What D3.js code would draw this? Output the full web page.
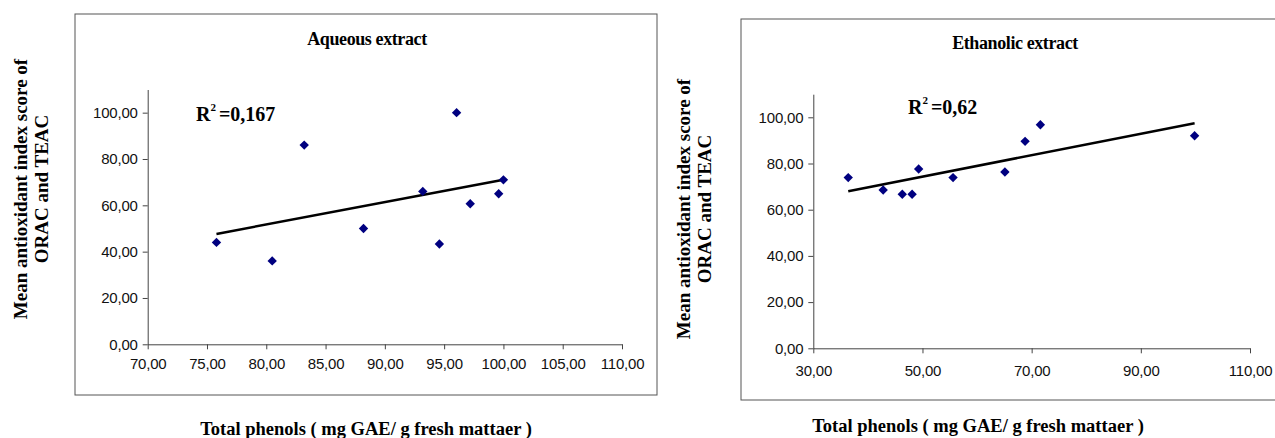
<!DOCTYPE html>
<html>
<head>
<meta charset="utf-8">
<script src="https://cdn.jsdelivr.net/npm/d3@7"></script>
<style>
  body { margin: 0; background: #fff; }
  .tick text { font-family: Arial, "Liberation Sans", sans-serif; font-size: 15px; letter-spacing: -0.2px; fill: #111; }
  .ttl { font-family: "Times New Roman", "Liberation Serif", serif; font-weight: bold; fill: #000; }
</style>
</head>
<body>
<div id="chart"></div>
<script>
// values
const aqueousPhenols = [75.8, 80.5, 83.2, 88.2, 93.2, 94.6, 96.05, 97.2, 99.6, 100.0];
const aqueousScore   = [44.0, 36.0, 86.0, 50.0, 66.0, 43.3, 100.0, 60.7, 65.0, 71.0];
const ethanolicPhenols = [36.4, 42.8, 46.3, 48.1, 49.3, 55.6, 65.1, 68.8, 71.6, 99.85];
const ethanolicScore   = [73.9, 68.5, 66.7, 66.7, 77.6, 73.9, 76.3, 89.6, 96.8, 92.0];

const aqueousXTicks = [70, 75, 80, 85, 90, 95, 100, 105, 110];
const ethanolicXTicks = [30, 50, 70, 90, 110];
const yTicks = [0, 20, 40, 60, 80, 100];

const titles = ["Aqueous extract", "Ethanolic extract"];
const r2Labels = ["0,167", "0,62"];
const yTitle = ["Mean antioxidant index score of", "ORAC and TEAC"];
const xTitle = "Total phenols ( mg GAE/ g fresh mattaer )";

const svg = d3.select("#chart").append("svg")
    .attr("width", 1275)
    .attr("height", 438);

const fmt = function(v) { return d3.format(".2f")(v).replace(".", ","); };

// least squares fit for the trend line
function fit(xs, ys) {
  const mx = d3.mean(xs), my = d3.mean(ys);
  let sxy = 0, sxx = 0;
  xs.forEach(function(x, i) { sxy += (x - mx) * (ys[i] - my); sxx += (x - mx) * (x - mx); });
  const b = sxy / sxx;
  return function(x) { return my + b * (x - mx); };
}

function drawPanel(p) {
  // frame
  svg.append("rect")
      .attr("x", p.frame[0]).attr("y", p.frame[1])
      .attr("width", p.frame[2]).attr("height", p.frame[3])
      .attr("fill", "none").attr("stroke", "#555").attr("stroke-width", 1);

  const x = d3.scaleLinear().domain([p.xTicks[0], p.xTicks[p.xTicks.length - 1]]).range(p.xRange);
  const y = d3.scaleLinear().domain([0, 110]).range(p.yRange);

  const gx = svg.append("g")
      .attr("transform", "translate(0," + p.yRange[0] + ")")
      .call(d3.axisBottom(x).tickValues(p.xTicks).tickFormat(fmt).tickSize(5).tickPadding(p.xPad).tickSizeOuter(0));
  const gy = svg.append("g")
      .attr("transform", "translate(" + p.xRange[0] + ",0)")
      .call(d3.axisLeft(y).tickValues(yTicks).tickFormat(fmt).tickSize(5).tickPadding(5).tickSizeOuter(0));
  [gx, gy].forEach(function(g) {
    g.select(".domain").attr("stroke", "#444");
    g.selectAll(".tick line").attr("stroke", "#444");
  });

  // trend line
  const f = fit(p.xs, p.ys);
  const x0 = d3.min(p.xs), x1 = d3.max(p.xs);
  svg.append("line")
      .attr("x1", x(x0)).attr("y1", y(f(x0)))
      .attr("x2", x(x1)).attr("y2", y(f(x1)))
      .attr("stroke", "#000").attr("stroke-width", 2.5);

  // points
  svg.selectAll(null)
      .data(p.xs.map(function(v, i) { return [v, p.ys[i]]; }))
      .enter()
      .append("path")
        .attr("d", d3.symbol().type(d3.symbolSquare).size(44))
        .attr("transform", function(d) { return "translate(" + x(d[0]) + "," + y(d[1]) + ") rotate(45)"; })
        .attr("fill", "#000080");

  // chart title
  svg.append("text").attr("class", "ttl")
      .attr("x", p.titlePos[0]).attr("y", p.titlePos[1])
      .attr("text-anchor", "middle")
      .style("font-size", "18px").style("letter-spacing", "-0.4px")
      .text(p.title);

  // R squared
  const r = svg.append("text").attr("class", "ttl")
      .attr("x", p.r2Pos[0]).attr("y", p.r2Pos[1])
      .style("font-size", "20px");
  r.append("tspan").text("R");
  r.append("tspan").attr("dy", -10).style("font-size", "11px").text("2");
  r.append("tspan").attr("dy", 10).attr("dx", 3).text("=" + p.r2);

  // y title, two lines
  yTitle.forEach(function(t, i) {
    svg.append("text").attr("class", "ttl")
        .attr("transform", "translate(" + (p.yTitleX + i * 21) + "," + p.yTitleY + ") rotate(-90)")
        .attr("text-anchor", "middle")
        .attr("dy", "0.35em")
        .style("font-size", "19px")
        .text(t);
  });

  // x title
  svg.append("text").attr("class", "ttl")
      .attr("x", p.xTitlePos[0]).attr("y", p.xTitlePos[1])
      .attr("text-anchor", "middle")
      .style("font-size", "18.5px")
      .text(xTitle);
}

drawPanel({
  frame: [75, 14, 582, 381],
  xs: aqueousPhenols, ys: aqueousScore, xTicks: aqueousXTicks,
  xRange: [147.7, 622], yRange: [344.3, 89.5], xPad: 9,
  title: titles[0], titlePos: [367, 45],
  r2: r2Labels[0], r2Pos: [196, 121],
  yTitleX: 20, yTitleY: 189,
  xTitlePos: [366, 435]
});

drawPanel({
  frame: [741, 19, 560, 381],
  xs: ethanolicPhenols, ys: ethanolicScore, xTicks: ethanolicXTicks,
  xRange: [813.3, 1250], yRange: [348.3, 94.2], xPad: 12,
  title: titles[1], titlePos: [1015, 49],
  r2: r2Labels[1], r2Pos: [908, 114],
  yTitleX: 683, yTitleY: 209,
  xTitlePos: [978, 432]
});
</script>
</body>
</html>
